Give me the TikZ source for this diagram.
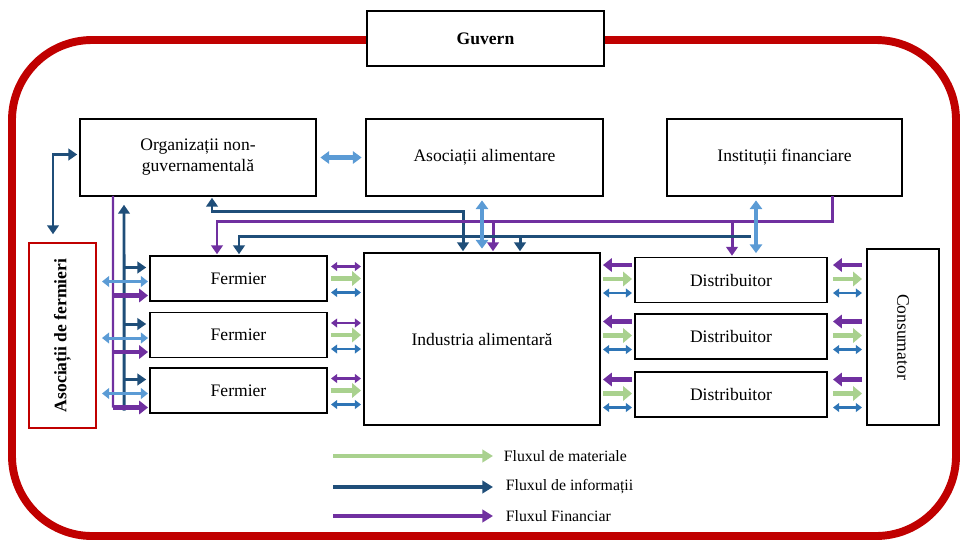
\documentclass[tikz,border=0pt]{standalone}
\usepackage{fontspec}
\setmainfont{Liberation Serif}
\usepackage{xcolor}
\usepackage{tikz}
\usetikzlibrary{arrows.meta, calc}
\definecolor{framered}{HTML}{C00000}
\definecolor{matgreen}{HTML}{A9D18E}
\definecolor{infoblue}{HTML}{1F4E79}
\definecolor{finpurple}{HTML}{7030A0}
\definecolor{linkblue}{HTML}{2E75B6}
\definecolor{steel}{HTML}{5B9BD5}
\tikzset{
  block/.style={rectangle, draw=black, line width=0.8pt, fill=white, align=center,
                inner sep=2pt, outer sep=0pt},
  assoc/.style={block, draw=framered, line width=1.6pt, font=\bfseries},
  govframe/.style={draw=framered, line width=4.5pt, rounded corners=1.6cm},
  legtext/.style={anchor=west, font=\small, inner sep=2pt},
  matarrow/.style={matgreen, line width=2.6pt, -{Triangle[length=5pt, width=8pt]}},
  moneyarrow/.style={finpurple, line width=2.3pt, -{Triangle[length=5pt, width=7.5pt]}},
  infoarrow/.style={infoblue, line width=1.7pt, -{Triangle[length=5pt, width=6.5pt]}, shorten >=1pt},
  infodbl/.style={infoblue, line width=1.7pt, {Triangle[length=5pt, width=6.5pt]}-{Triangle[length=5pt, width=6.5pt]}, shorten >=1pt, shorten <=1pt},
  finarrow/.style={finpurple, line width=1.7pt, -{Triangle[length=5pt, width=6.5pt]}, shorten >=1pt},
  pairdbl/.style={line width=1.4pt, {Triangle[length=3.5pt, width=5pt]}-{Triangle[length=3.5pt, width=5pt]}},
  steeldbl/.style={steel, line width=2.6pt, {Triangle[length=5pt, width=7pt]}-{Triangle[length=5pt, width=7pt]}, shorten >=2.5pt, shorten <=2.5pt},
  steelsmall/.style={steel, line width=1.7pt, {Triangle[length=4pt, width=6pt]}-{Triangle[length=4pt, width=6pt]}},
  legarrow/.style={line width=1.8pt, -{Triangle[length=6pt, width=7pt]}},
}
\begin{document}
\begin{tikzpicture}[x=0.02cm, y=-0.02cm]
\useasboundingbox (0,0) rectangle (963,545);
\draw[govframe] (12,40) rectangle (956,536);
\node[block, font=\bfseries, minimum width=4.74cm, minimum height=1.1cm] (gov) at (485.5,38.5) {Guvern};

% top row
\node[block, minimum width=4.72cm, minimum height=1.54cm] (ngo) at (198,157.5) {Organizații non-\\guvernamentală};
\node[block, minimum width=4.74cm, minimum height=1.54cm] (asal) at (484.5,157.5) {Asociații alimentare};
\node[block, minimum width=4.7cm, minimum height=1.54cm] (fin) at (784.5,157.5) {Instituții financiare};

% chain
\node[assoc, minimum width=1.34cm, minimum height=3.7cm] (asf) at (62.5,335.5) {\rotatebox{90}{Asociații de fermieri}};
\foreach \i/\y in {1/278.5, 2/335, 3/390.5}
  \node[block, minimum width=3.54cm, minimum height=0.9cm] (farm\i) at (238.5,\y) {Fermier};
\node[block, minimum width=4.72cm, minimum height=3.44cm] (ind) at (482,339) {Industria alimentară};
\foreach \i/\y in {1/280, 2/336.5, 3/394.5}
  \node[block, minimum width=3.84cm, minimum height=0.9cm] (dist\i) at (731,\y) {Distribuitor};
\node[block, minimum width=1.44cm, minimum height=3.52cm] (cons) at (903,337) {\rotatebox{-90}{Consumator}};

% flows along the chain
\foreach \i in {1,2,3} {
  \draw[pairdbl, finpurple] ($(farm\i.east)+(4,-12)$) -- ($(farm\i.east -| ind.west)+(-3,-12)$);
  \draw[matarrow] ($(farm\i.east)+(4,0)$) -- ($(farm\i.east -| ind.west)+(-3,0)$);
  \draw[pairdbl, linkblue] ($(farm\i.east)+(4,14)$) -- ($(farm\i.east -| ind.west)+(-3,14)$);
  \draw[moneyarrow] ($(dist\i.west)+(-3,-15)$) -- ($(dist\i.west -| ind.east)+(3,-15)$);
  \draw[matarrow] ($(dist\i.west -| ind.east)+(3,-1)$) -- ($(dist\i.west)+(-3,-1)$);
  \draw[pairdbl, linkblue] ($(dist\i.west -| ind.east)+(3,13)$) -- ($(dist\i.west)+(-3,13)$);
  \draw[moneyarrow] ($(dist\i.east -| cons.west)+(-5,-15)$) -- ($(dist\i.east)+(6,-15)$);
  \draw[matarrow] ($(dist\i.east)+(6,-1)$) -- ($(dist\i.east -| cons.west)+(-5,-1)$);
  \draw[pairdbl, linkblue] ($(dist\i.east)+(6,13)$) -- ($(dist\i.east -| cons.west)+(-5,13)$);
}

% left side: associations, NGO and farmers
\draw[finpurple, line width=1.2pt] ($(ngo.south)+(-85,0)$) -- ($(farm3.west)+(-37,17)$);
\draw[infoarrow, shorten >=5pt] ($(farm3.west)+(-26,20)$) -- ($(ngo.south)+(-74,0)$);
\foreach \i in {1,2,3} {
  \draw[infoarrow] ($(farm\i.west)+(-26,-11)$) -- ($(farm\i.west)+(-2,-11)$);
  \draw[steelsmall] ($(asf.east |- farm\i.west)+(6,3)$) -- ($(farm\i.west)+(-2,3)$);
  \draw[moneyarrow] ($(farm\i.west)+(-37,17)$) -- ($(farm\i.west)+(-2,17)$);
}
\draw[infodbl, shorten >=5pt] ($(ngo.west)+(-1,-3)$) -| (asf.north -| 53,0);
\draw[steeldbl] (ngo.east) -- (asal.west);

% top routing
\coordinate (ij) at (751,236);
\coordinate (pj1) at (493,221);
\coordinate (pj2) at (732,221);
\coordinate (ij1) at (520,236);
\draw[infodbl] ($(ngo.south)+(14,0)$) |- (463,211) -- (463,0 |- ind.north);
\draw[finarrow] ($(fin.south)+(47.5,0)$) |- (217,221) -- (217,0 |- farm1.north);
\draw[finarrow] (pj1) -- (pj1 |- ind.north);
\draw[finarrow] (pj2) -- (pj2 |- dist1.north);
\draw[infoarrow] (ij) -| (239,0 |- farm1.north);
\draw[infoarrow] (ij1) -- (ij1 |- ind.north);
\draw[steeldbl] (482,0 |- asal.south) -- (482,0 |- ind.north);
\draw[steeldbl] (756,0 |- fin.south) -- (756,0 |- dist1.north);

% legend
\node[legtext] (leg1) at (500,456) {Fluxul de materiale};
\node[legtext] (leg2) at (502,487) {Fluxul de informații};
\node[legtext] (leg3) at (502,516) {Fluxul Financiar};
\coordinate (ls1) at (333,456);
\coordinate (ls2) at (333,487);
\coordinate (ls3) at (333,516);
\draw[legarrow, matgreen, line width=2.2pt] (ls1) -- ($(leg1.west)+(-7,0)$);
\draw[legarrow, infoblue] (ls2) -- ($(leg2.west)+(-9,0)$);
\draw[legarrow, finpurple] (ls3) -- ($(leg3.west)+(-9,0)$);
\end{tikzpicture}
\end{document}
